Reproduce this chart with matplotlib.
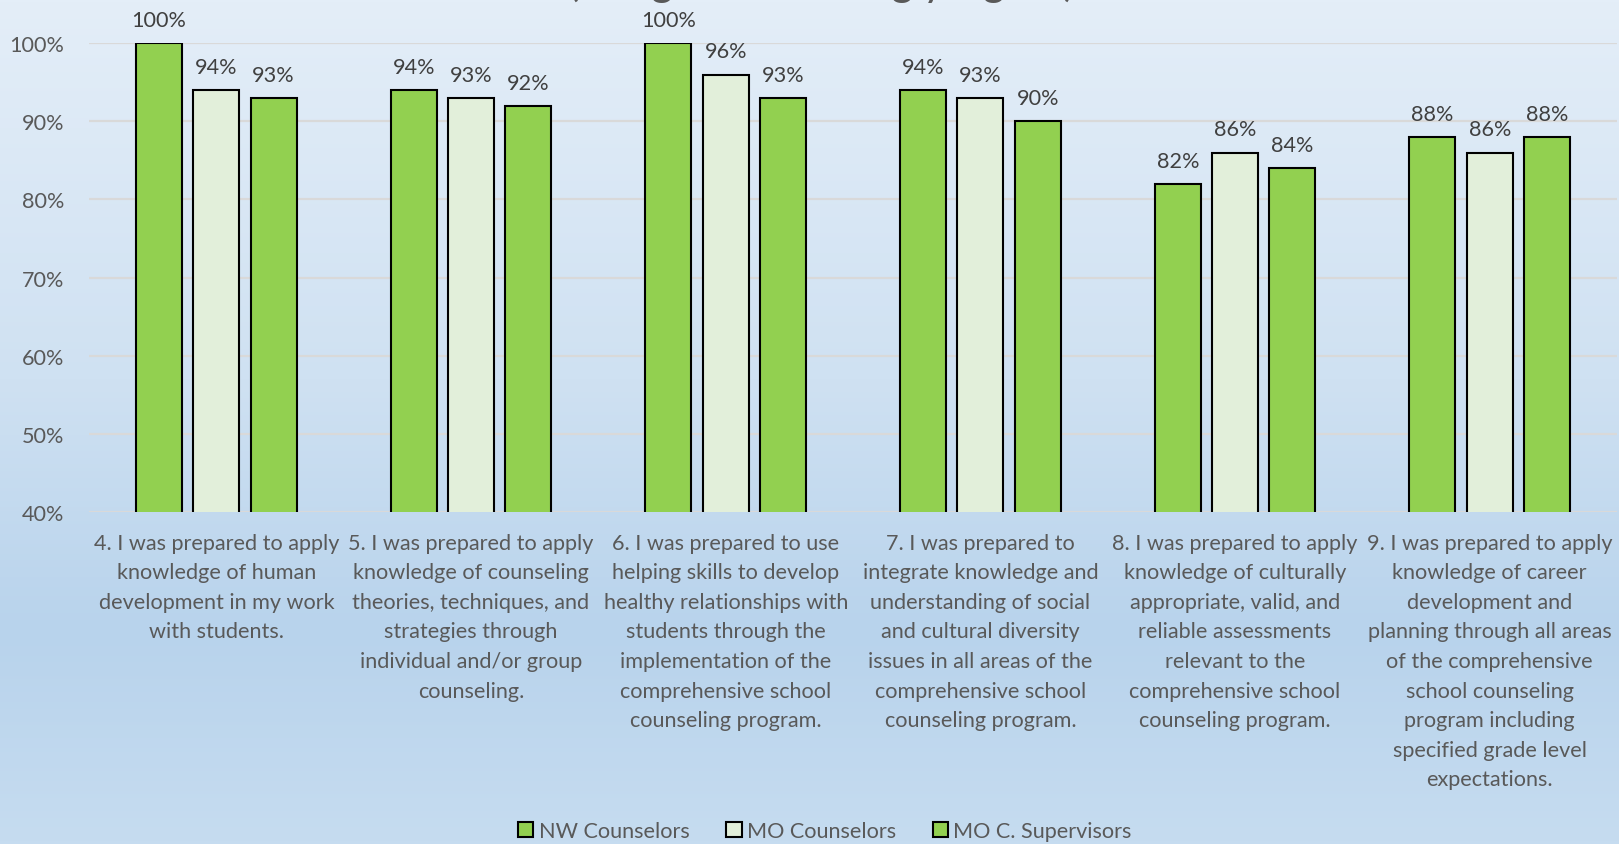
import numpy as np
import matplotlib
matplotlib.use('Agg')
import matplotlib.pyplot as plt
from matplotlib.colors import LinearSegmentedColormap
from matplotlib.patches import Patch

plt.rcParams['font.family'] = ['Lato', 'DejaVu Sans']

statements = [
    "4. I was prepared to apply\nknowledge of human\ndevelopment in my work\nwith students.",
    "5. I was prepared to apply\nknowledge of counseling\ntheories, techniques, and\nstrategies through\nindividual and/or group\ncounseling.",
    "6. I was prepared to use\nhelping skills to develop\nhealthy relationships with\nstudents through the\nimplementation of the\ncomprehensive school\ncounseling program.",
    "7. I was prepared to\nintegrate knowledge and\nunderstanding of social\nand cultural diversity\nissues in all areas of the\ncomprehensive school\ncounseling program.",
    "8. I was prepared to apply\nknowledge of culturally\nappropriate, valid, and\nreliable assessments\nrelevant to the\ncomprehensive school\ncounseling program.",
    "9. I was prepared to apply\nknowledge of career\ndevelopment and\nplanning through all areas\nof the comprehensive\nschool counseling\nprogram including\nspecified grade level\nexpectations.",
]
series_names = ["NW Counselors", "MO Counselors", "MO C. Supervisors"]
nw_counselors = [100, 94, 100, 94, 82, 88]
mo_counselors = [94, 93, 96, 93, 86, 86]
mo_supervisors = [93, 92, 93, 90, 84, 88]
y_ticks = [40, 50, 60, 70, 80, 90, 100]

GREEN = '#92d050'
PALE = '#e2efda'
TEXT = '#595959'
FS = 15.6

fig = plt.figure(figsize=(16.19, 8.45), dpi=100)

# soft blue gradient behind everything
bg = fig.add_axes([0, 0, 1, 1], zorder=0)
cmap = LinearSegmentedColormap.from_list(
    'bg', [(0.0, '#e4eef8'), (0.45, '#cfe1f2'), (0.75, '#b8d3ec'), (1.0, '#c6dcf0')])
bg.imshow(np.linspace(0, 1, 256).reshape(-1, 1), cmap=cmap, aspect='auto',
          extent=[0, 1, 1, 0])
bg.axis('off')

ax = fig.add_axes([0.055, 0.3931, 0.9438, 0.5545], zorder=1)
ax.patch.set_alpha(0)

x = np.arange(len(statements))
width = 0.181
step = 0.225
series = [nw_counselors, mo_counselors, mo_supervisors]
colors = [GREEN, PALE, GREEN]
for i, (vals, col) in enumerate(zip(series, colors)):
    pos = x + (i - 1) * step
    ax.bar(pos, vals, width, color=col, edgecolor='black', linewidth=1.5, zorder=3)
    for px, v in zip(pos, vals):
        ax.annotate(f"{v}%", (px, v), xytext=(0, 9.5), textcoords='offset points',
                    ha='center', va='bottom', fontsize=FS, color='#404040',
                    annotation_clip=False)

ax.set_ylim(40, 100)
ax.set_xlim(-0.5, len(statements) - 0.5)
ax.set_yticks(y_ticks)
ax.set_yticklabels([f"{t}%" for t in y_ticks], fontsize=FS, color=TEXT)
ax.yaxis.grid(True, color='#d9d9d9', linewidth=1.6, zorder=0)
ax.set_axisbelow(True)
ax.tick_params(axis='y', length=0, pad=18)
ax.tick_params(axis='x', length=0, pad=15)
ax.set_xticks(x)
ax.set_xticklabels(statements, fontsize=FS, color=TEXT, linespacing=1.6,
                   va='top', ha='center')
for s in ax.spines.values():
    s.set_visible(False)

# chart title, mostly running off the top edge
fig.text(822 / 1619, 1 - 3 / 845, "(% Agree or Strongly Agree)", ha='center',
         va='bottom', fontsize=30, color=TEXT)

handles = [Patch(facecolor=c, edgecolor='black', linewidth=1.5) for c in colors]
fig.legend(handles, series_names, loc='center', bbox_to_anchor=(825 / 1619, 1 - 832 / 845),
           ncol=3, frameon=False, fontsize=FS, labelcolor=TEXT, handlelength=0.7,
           handleheight=0.7, handletextpad=0.25, columnspacing=1.7)

fig.savefig('out.png', dpi=100)
